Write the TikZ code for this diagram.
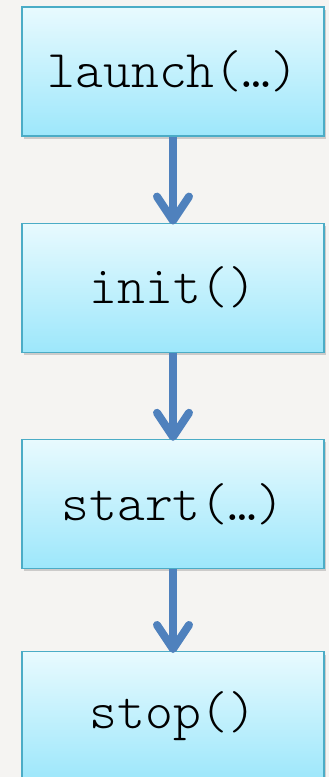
\documentclass[tikz,border=0pt]{standalone}
\usepackage{fontspec}
\setmonofont{Latin Modern Mono Light}
\usetikzlibrary{arrows.meta,positioning,shadows}
\definecolor{boxline}{HTML}{4BACC6}
\definecolor{boxtop}{HTML}{E8FAFE}
\definecolor{boxbottom}{HTML}{9DE7FB}
\definecolor{flowblue}{HTML}{4F81BD}
\definecolor{paper}{HTML}{F5F4F2}
\tikzset{
  callbox/.style={draw=boxline,line width=1.2pt,top color=boxtop,bottom color=boxbottom,
    minimum width=302pt,minimum height=129pt,inner sep=0pt,
    font=\ttfamily\fontsize{53}{60}\selectfont,
    drop shadow={shadow xshift=2pt,shadow yshift=-3pt,opacity=0.35}},
  callflow/.style={draw=flowblue,line width=8pt,shorten >=-2pt,
    -{Straight Barb[length=24pt,width=32pt,round]}}
}

\begin{document}
\begin{tikzpicture}[x=1pt,y=1pt,node distance=86pt]
\fill[paper] (0,0) rectangle (329,-777);
\useasboundingbox (0,0) rectangle (329,-777);
\node[callbox] (launch) at (173,-71.5) {launch(…)};
\node[callbox,below=of launch] (init) {init()};
\node[callbox,below=of init] (start) {start(…)};
\node[callbox,below=82pt of start] (stop) {stop()};
\draw[callflow] (launch.south) -- (init.north);
\draw[callflow] (init.south) -- (start.north);
\draw[callflow] (start.south) -- (stop.north);
\end{tikzpicture}
\end{document}
